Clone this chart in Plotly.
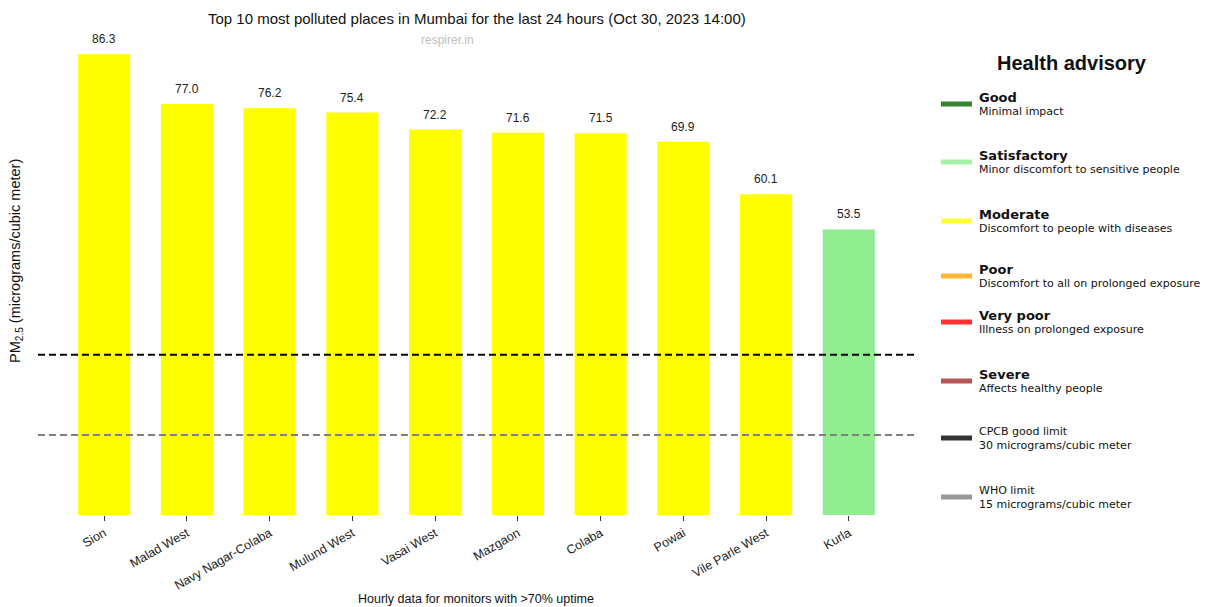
import plotly.graph_objects as go

# data
places = ["Sion", "Malad West", "Navy Nagar-Colaba", "Mulund West", "Vasai West",
          "Mazgaon", "Colaba", "Powai", "Vile Parle West", "Kurla"]
pm25 = [86.3, 77.0, 76.2, 75.4, 72.2, 71.6, 71.5, 69.9, 60.1, 53.5]
bar_colors = ["#ffff00"] * 9 + ["#90ee90"]

cpcb_limit = 30
who_limit = 15

advisory_labels = ["Good", "Satisfactory", "Moderate", "Poor", "Very poor", "Severe",
                   "CPCB good limit", "WHO limit"]
advisory_text = ["Minimal impact", "Minor discomfort to sensitive people",
                 "Discomfort to people with diseases", "Discomfort to all on prolonged exposure",
                 "Illness on prolonged exposure", "Affects healthy people",
                 "30 micrograms/cubic meter", "15 micrograms/cubic meter"]
advisory_colors = ["#338333", "#a6f1a6", "#ffff33", "#ffb733", "#ff3333", "#b75555",
                   "#333333", "#999999"]

W, H = 1209, 607
L, R, T, B = 38, 294, 24, 92
PW, PH = W - L - R, H - T - B


def px(x):
    return (x - L) / PW


def py(y):
    return (H - B - y) / PH


def note(x, y, text, **kw):
    # helper: place a text by pixel position on the page
    opts = dict(xref="paper", yref="paper", x=px(x), y=py(y), text=text, showarrow=False,
                xanchor="center", yanchor="middle")
    opts.update(kw)
    fig.add_annotation(**opts)


fig = go.Figure()
fig.add_trace(go.Bar(x=places, y=pm25, marker=dict(color=bar_colors, line=dict(width=0)),
                     width=0.63, showlegend=False, hoverinfo="x+y"))

# limit lines
fig.add_shape(type="line", xref="paper", x0=0, x1=1, yref="y", y0=cpcb_limit, y1=cpcb_limit,
              line=dict(color="black", width=2, dash="7px,4px"), layer="above")
fig.add_shape(type="line", xref="paper", x0=0, x1=1, yref="y", y0=who_limit, y1=who_limit,
              line=dict(color="#808080", width=2, dash="7px,4px"), layer="above")

# value labels on top of bars
for p, v in zip(places, pm25):
    fig.add_annotation(x=p, y=v, text=f"{v:.1f}", showarrow=False, yanchor="bottom", yshift=6,
                       font=dict(family="Liberation Sans, Arial", size=12, color="#222"))

# titles
note(477, 18, "Top 10 most polluted places in Mumbai for the last 24 hours (Oct 30, 2023 14:00)",
     font=dict(family="Liberation Sans, Arial", size=15, color="#111"))
note(447, 40, "respirer.in", font=dict(family="Liberation Sans, Arial", size=12, color="#c0c0c0"))
note(16, 261, "PM<sub>2.5</sub> (micrograms/cubic meter)", textangle=-90,
     font=dict(family="Liberation Sans, Arial", size=14.5, color="#111"))
note(476, 599, "Hourly data for monitors with >70% uptime",
     font=dict(family="Liberation Sans, Arial", size=12.5, color="#111"))

# health advisory panel
note(1072, 63, "<b>Health advisory</b>", font=dict(family="Liberation Sans, Arial", size=20, color="#111"))
swatch_y = [104, 162, 221, 276, 322, 381, 438, 497]
for i, (lab, txt, col) in enumerate(zip(advisory_labels, advisory_text, advisory_colors)):
    sy = swatch_y[i]
    fig.add_shape(type="line", xref="paper", yref="paper", x0=px(941), x1=px(972),
                  y0=py(sy), y1=py(sy), line=dict(color=col, width=5))
    bold = i < 6
    note(977, sy - 7, f"<b>{lab}</b>" if bold else lab, xanchor="left",
         font=dict(family="DejaVu Sans", size=13 if bold else 11, color="#111"))
    note(977, sy + 7, txt, xanchor="left", font=dict(family="DejaVu Sans", size=11, color="#111"))

fig.update_layout(
    width=W, height=H,
    margin=dict(l=L, r=R, t=T, b=B, pad=0),
    paper_bgcolor="white", plot_bgcolor="white",
    xaxis=dict(range=[-0.8, 9.8], showgrid=False, zeroline=False, showline=False,
               ticks="outside", ticklen=5, tickcolor="#333", tickangle=-30,
               tickfont=dict(family="Liberation Sans, Arial", size=12.5, color="#222")),
    yaxis=dict(range=[0, (H - B - T) / 5.338], showgrid=False, zeroline=False, showline=False,
               showticklabels=False, ticks=""),
)

fig.write_html("out.html", config={"displayModeBar": False},
               post_script="document.body.style.margin='0';")
